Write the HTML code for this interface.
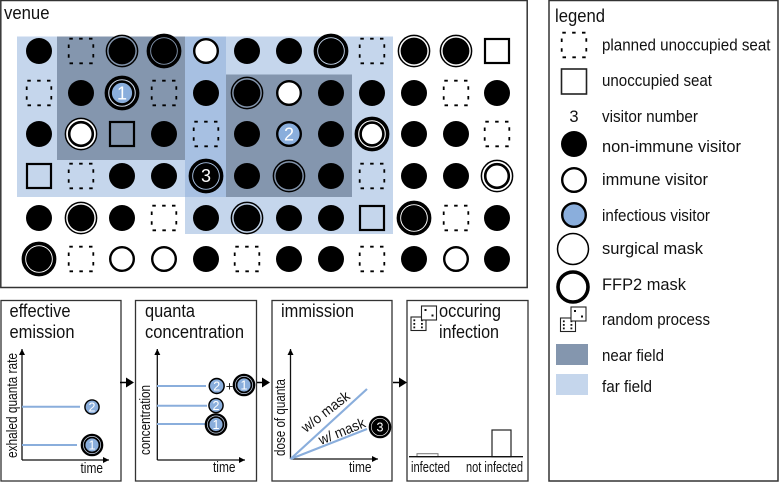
<!DOCTYPE html>
<html><head><meta charset="utf-8"><style>
html,body{margin:0;padding:0;background:#fff}
svg{display:block}
text{font-family:"Liberation Sans",sans-serif;fill:#111}
</style></head><body>
<svg width="779" height="482" viewBox="0 0 779 482" xmlns="http://www.w3.org/2000/svg">
<defs>
<g id="b"><circle r="13" fill="#000"/></g>
<g id="d"><rect x="-12.3" y="-12.3" width="24.6" height="24.6" fill="none" stroke="#000" stroke-width="1.8" stroke-dasharray="3.5 6.34" stroke-dashoffset="-0.6"/></g>
<g id="q"><rect x="-12" y="-12" width="24" height="24" fill="none" stroke="#000" stroke-width="2.2"/></g>
<g id="i"><circle r="11.8" fill="#fff" stroke="#000" stroke-width="2.4"/></g>
<g id="sb"><circle r="15.6" fill="none" stroke="#000" stroke-width="1.5"/><circle r="13.4" fill="#000"/></g>
<g id="fb"><circle r="15.6" fill="none" stroke="#000" stroke-width="3.6"/><circle r="12.9" fill="#000"/></g>
<g id="si"><circle r="15.6" fill="#fff" stroke="#000" stroke-width="1.5"/><circle r="11.8" fill="#fff" stroke="#000" stroke-width="2.6"/></g>
<g id="fi"><circle r="15.6" fill="#fff" stroke="#000" stroke-width="3.6"/><circle r="11.4" fill="#fff" stroke="#000" stroke-width="2.6"/></g>
<g id="inf"><circle r="11.8" fill="#8aaedc" stroke="#000" stroke-width="2.4"/></g>
<g id="finf"><circle r="15.6" fill="#c8d4e6" stroke="#000" stroke-width="3.6"/><circle r="11.4" fill="#8aaedc" stroke="#000" stroke-width="2.6"/></g>
<marker id="ar" markerWidth="8" markerHeight="8" refX="6" refY="3" orient="auto" markerUnits="userSpaceOnUse"><path d="M0,0 L6,3 L0,6 Z" fill="#000"/></marker>
<g id="dice2">
<rect x="0" y="11" width="15" height="13.5" fill="#fff" stroke="#222" stroke-width="1.1"/>
<rect x="2.4" y="13.4" width="1.8" height="1.8" fill="#111"/><rect x="2.4" y="17" width="1.8" height="1.8" fill="#111"/><rect x="2.4" y="20.5" width="1.8" height="1.8" fill="#111"/>
<rect x="10" y="13.4" width="1.8" height="1.8" fill="#111"/><rect x="10" y="17" width="1.8" height="1.8" fill="#111"/><rect x="10" y="20.5" width="1.8" height="1.8" fill="#111"/>
<rect x="10.5" y="0" width="15" height="14" fill="#fff" stroke="#222" stroke-width="1.1"/>
<rect x="13.5" y="3" width="2" height="2" fill="#111"/><rect x="20.5" y="8.5" width="2" height="2" fill="#111"/>
</g>
</defs>

<!-- frames -->
<rect x="0.8" y="0.5" width="526.4" height="287" fill="#fff" stroke="#333" stroke-width="1.5"/>
<rect x="549" y="0.5" width="229" height="480.5" fill="#fff" stroke="#333" stroke-width="1.5"/>
<rect x="1" y="300.5" width="120" height="180.5" fill="#fff" stroke="#333" stroke-width="1.3"/>
<rect x="135.5" y="300.5" width="121" height="180.5" fill="#fff" stroke="#333" stroke-width="1.3"/>
<rect x="272" y="300.5" width="120" height="180.5" fill="#fff" stroke="#333" stroke-width="1.3"/>
<rect x="407" y="300.5" width="121" height="180.5" fill="#fff" stroke="#333" stroke-width="1.3"/>

<text x="4" y="19" font-size="18.5" textLength="45.5" lengthAdjust="spacingAndGlyphs">venue</text>

<!-- fields -->
<rect x="17" y="36.5" width="209" height="160.5" fill="#c5d6ec"/>
<rect x="185" y="36.5" width="208" height="197.5" fill="#c5d6ec"/>
<rect x="185" y="36.5" width="41" height="160.5" fill="#a7c0e2"/>
<rect x="57" y="36.5" width="128" height="123.5" fill="#8496ae"/>
<rect x="226" y="74.5" width="126" height="122.5" fill="#8496ae"/>

<!-- row 1 -->
<use href="#b" x="39" y="51"/><use href="#d" x="81" y="51"/><use href="#sb" x="122" y="51"/><use href="#fb" x="164" y="51"/><use href="#i" x="206" y="51"/><use href="#b" x="247" y="51"/><use href="#b" x="289" y="51"/><use href="#fb" x="331" y="51"/><use href="#d" x="372" y="51"/><use href="#sb" x="414" y="51"/><use href="#sb" x="456" y="51"/><use href="#q" x="497" y="51"/>
<!-- row 2 -->
<use href="#d" x="39" y="93"/><use href="#b" x="81" y="93"/><use href="#finf" x="122" y="93"/><use href="#d" x="164" y="93"/><use href="#b" x="206" y="93"/><use href="#sb" x="247" y="93"/><use href="#i" x="289" y="93"/><use href="#b" x="331" y="93"/><use href="#b" x="372" y="93"/><use href="#b" x="414" y="93"/><use href="#d" x="456" y="93"/><use href="#b" x="497" y="93"/>
<!-- row 3 -->
<use href="#b" x="39" y="134"/><use href="#si" x="81" y="134"/><use href="#q" x="122" y="134"/><use href="#b" x="164" y="134"/><use href="#d" x="206" y="134"/><use href="#b" x="247" y="134"/><use href="#inf" x="289" y="134"/><use href="#b" x="331" y="134"/><use href="#fi" x="372" y="134"/><use href="#b" x="414" y="134"/><use href="#b" x="456" y="134"/><use href="#d" x="497" y="134"/>
<!-- row 4 -->
<use href="#q" x="39" y="176"/><use href="#d" x="81" y="176"/><use href="#b" x="122" y="176"/><use href="#b" x="164" y="176"/><use href="#fb" x="206" y="176"/><use href="#b" x="247" y="176"/><use href="#sb" x="289" y="176"/><use href="#b" x="331" y="176"/><use href="#d" x="372" y="176"/><use href="#b" x="414" y="176"/><use href="#b" x="456" y="176"/><use href="#si" x="497" y="176"/>
<!-- row 5 -->
<use href="#b" x="39" y="218"/><use href="#sb" x="81" y="218"/><use href="#b" x="122" y="218"/><use href="#d" x="164" y="218"/><use href="#b" x="206" y="218"/><use href="#sb" x="247" y="218"/><use href="#b" x="289" y="218"/><use href="#b" x="331" y="218"/><use href="#q" x="372" y="218"/><use href="#fb" x="414" y="218"/><use href="#d" x="456" y="218"/><use href="#b" x="497" y="218"/>
<!-- row 6 -->
<use href="#fb" x="39" y="259"/><use href="#d" x="81" y="259"/><use href="#i" x="122" y="259"/><use href="#i" x="164" y="259"/><use href="#b" x="206" y="259"/><use href="#d" x="247" y="259"/><use href="#b" x="289" y="259"/><use href="#b" x="331" y="259"/><use href="#d" x="372" y="259"/><use href="#b" x="414" y="259"/><use href="#i" x="456" y="259"/><use href="#b" x="497" y="259"/>

<text x="122" y="99.5" font-size="18" text-anchor="middle" style="fill:#fff">1</text>
<text x="289" y="140.5" font-size="18" text-anchor="middle" style="fill:#fff">2</text>
<text x="206" y="182" font-size="18" text-anchor="middle" style="fill:#fff">3</text>

<!-- legend -->
<text x="555" y="22" font-size="18" textLength="50" lengthAdjust="spacingAndGlyphs">legend</text>
<use href="#d" x="574" y="45"/>
<rect x="561.5" y="69" width="25" height="25" fill="#fff" stroke="#222" stroke-width="1.6"/>
<text x="574" y="122" font-size="16.5" text-anchor="middle">3</text>
<use href="#b" x="574" y="144"/>
<use href="#i" x="574" y="180"/>
<use href="#inf" x="574" y="215"/>
<circle cx="573" cy="249" r="15.5" fill="#fff" stroke="#000" stroke-width="1.5"/>
<circle cx="573" cy="287" r="15" fill="#fff" stroke="#000" stroke-width="3.6"/>
<use href="#dice2" x="560.5" y="307"/>
<rect x="556" y="344" width="32" height="21" fill="#8496ae"/>
<rect x="556" y="374" width="32" height="21" fill="#c5d6ec"/>
<g font-size="16.5">
<text x="602" y="50.5" textLength="168.5" lengthAdjust="spacingAndGlyphs">planned unoccupied seat</text>
<text x="602" y="86" textLength="110" lengthAdjust="spacingAndGlyphs">unoccupied seat</text>
<text x="602" y="122" textLength="96" lengthAdjust="spacingAndGlyphs">visitor number</text>
<text x="602" y="152" textLength="139" lengthAdjust="spacingAndGlyphs">non-immune visitor</text>
<text x="602" y="185" textLength="106" lengthAdjust="spacingAndGlyphs">immune visitor</text>
<text x="602" y="221" textLength="108" lengthAdjust="spacingAndGlyphs">infectious visitor</text>
<text x="602" y="254" textLength="101" lengthAdjust="spacingAndGlyphs">surgical mask</text>
<text x="602" y="290" textLength="84" lengthAdjust="spacingAndGlyphs">FFP2 mask</text>
<text x="602" y="325" textLength="108" lengthAdjust="spacingAndGlyphs">random process</text>
<text x="602" y="361" textLength="62" lengthAdjust="spacingAndGlyphs">near field</text>
<text x="602" y="392" textLength="50" lengthAdjust="spacingAndGlyphs">far field</text>
</g>

<!-- panel titles -->
<g font-size="18">
<text x="9.5" y="317" textLength="61" lengthAdjust="spacingAndGlyphs">effective</text>
<text x="9.5" y="338" textLength="65" lengthAdjust="spacingAndGlyphs">emission</text>
<text x="145" y="317" textLength="50" lengthAdjust="spacingAndGlyphs">quanta</text>
<text x="145" y="338" textLength="99" lengthAdjust="spacingAndGlyphs">concentration</text>
<text x="281" y="317" textLength="73" lengthAdjust="spacingAndGlyphs">immission</text>
<text x="439" y="317" textLength="62" lengthAdjust="spacingAndGlyphs">occuring</text>
<text x="439" y="338" textLength="60" lengthAdjust="spacingAndGlyphs">infection</text>
</g>

<!-- axes -->
<g stroke="#111" stroke-width="1.3" fill="none">
<path d="M22,460 V349" marker-end="url(#ar)"/>
<path d="M22,460 H109" marker-end="url(#ar)"/>
<path d="M157.3,460 V349" marker-end="url(#ar)"/>
<path d="M157.3,460 H245" marker-end="url(#ar)"/>
<path d="M290.5,459 V349" marker-end="url(#ar)"/>
<path d="M290.5,459 H378" marker-end="url(#ar)"/>
</g>
<g stroke="#8aaedc" stroke-width="2" fill="none">
<path d="M22,406.7 H80"/><path d="M22,445 H77"/>
<path d="M157,386 H206"/><path d="M157,405.7 H207"/><path d="M157,424 H206"/>
<path d="M290.5,459 L367,389" stroke-width="2.2"/><path d="M290.5,459 L367,429" stroke-width="2.2"/>
</g>
<g transform="translate(92,407) scale(.6)"><use href="#inf"/></g>
<g transform="translate(92,445) scale(.65)"><use href="#finf"/></g>
<g transform="translate(216.7,386) scale(.63)"><use href="#inf"/></g>
<g transform="translate(244,385) scale(.65)"><use href="#finf"/></g>
<g transform="translate(216,405.5) scale(.6)"><use href="#inf"/></g>
<g transform="translate(216,424.5) scale(.65)"><use href="#finf"/></g>
<g transform="translate(380,427) scale(.65)"><use href="#fb"/></g>
<g font-size="12.5" text-anchor="middle">
<text x="92" y="411.5" style="fill:#fff">2</text>
<text x="92" y="449.5" style="fill:#fff">1</text>
<text x="216.7" y="390.5" style="fill:#fff">2</text>
<text x="244" y="389.5" style="fill:#fff">1</text>
<text x="216" y="410" style="fill:#fff">2</text>
<text x="216" y="429" style="fill:#fff">1</text>
<text x="380" y="431.5" style="fill:#fff">3</text>
</g>
<text x="229.6" y="390.5" font-size="13" text-anchor="middle">+</text>

<!-- inter-panel arrows -->
<g fill="#000" stroke="#000">
<path d="M120,382.5 H128" stroke-width="1.5"/><path d="M126,377.5 L134,382.5 L126,387.5 Z" stroke="none"/>
<path d="M257,382.5 H264" stroke-width="1.5"/><path d="M262,377.5 L270,382.5 L262,387.5 Z" stroke="none"/>
<path d="M393,382.5 H401" stroke-width="1.5"/><path d="M399,377.5 L407,382.5 L399,387.5 Z" stroke="none"/>
</g>

<!-- axis labels -->
<g font-size="14.5">
<text x="80.5" y="473" textLength="22.5" lengthAdjust="spacingAndGlyphs">time</text>
<text x="213" y="472" textLength="22.5" lengthAdjust="spacingAndGlyphs">time</text>
<text x="349" y="472" textLength="22.5" lengthAdjust="spacingAndGlyphs">time</text>
<text transform="translate(17,458) rotate(-90)" textLength="105" lengthAdjust="spacingAndGlyphs">exhaled quanta rate</text>
<text transform="translate(150,455) rotate(-90)" textLength="70" lengthAdjust="spacingAndGlyphs">concentration</text>
<text transform="translate(285,456) rotate(-90)" textLength="77" lengthAdjust="spacingAndGlyphs">dose of quanta</text>
<text transform="translate(306,433) rotate(-38)" textLength="57" lengthAdjust="spacingAndGlyphs">w/o mask</text>
<text transform="translate(321,445) rotate(-22)" textLength="49" lengthAdjust="spacingAndGlyphs">w/ mask</text>
<text x="411" y="472" textLength="39" lengthAdjust="spacingAndGlyphs">infected</text>
<text x="466" y="472" textLength="57" lengthAdjust="spacingAndGlyphs">not infected</text>
</g>

<!-- panel 4 -->
<rect x="417" y="453.7" width="21" height="3" fill="#fff" stroke="#777" stroke-width="1"/>
<rect x="492" y="430" width="19" height="26.7" fill="#fff" stroke="#222" stroke-width="1.2"/>
<path d="M409,456.7 H523" stroke="#111" stroke-width="1.3"/>
<use href="#dice2" x="411" y="306"/>
</svg>
</body></html>
